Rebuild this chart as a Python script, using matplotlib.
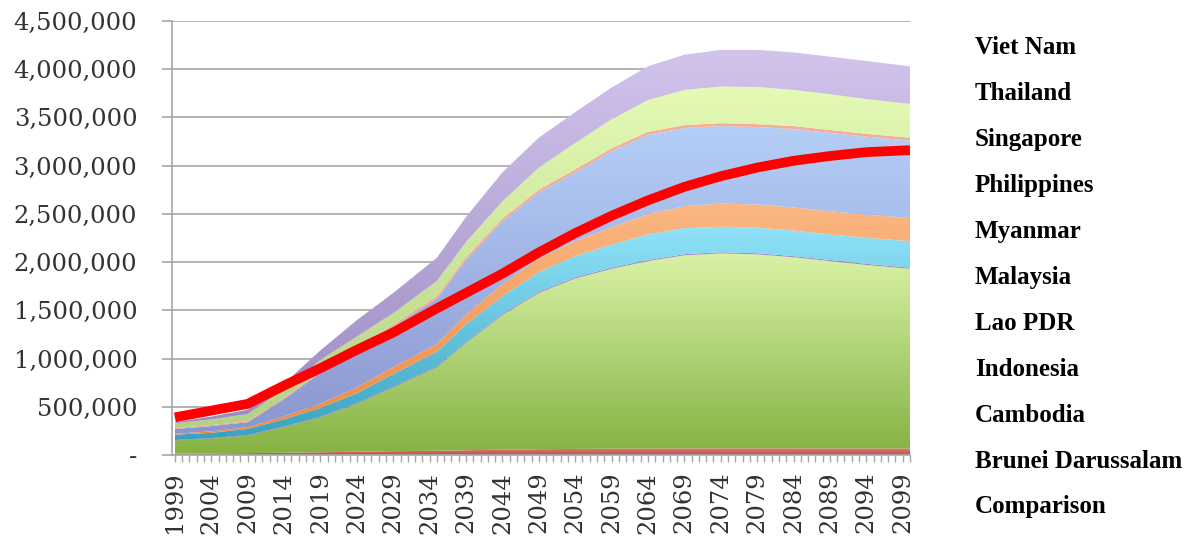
import numpy as np
import matplotlib
matplotlib.use("Agg")
import matplotlib.pyplot as plt
from matplotlib.colors import LinearSegmentedColormap
from matplotlib.ticker import FuncFormatter, MultipleLocator

# values, thousands of persons
years = [1999, 2004, 2009, 2014, 2019, 2024, 2029, 2035, 2039, 2044, 2049,
         2054, 2059, 2064, 2069, 2074, 2079, 2084, 2089, 2094, 2100]

brunei = [2, 2, 3, 3, 3, 4, 4, 4, 5, 5, 5, 5, 5, 5, 5, 5, 5, 5, 5, 5, 5]
cambodia = [12, 14, 16, 20, 25, 30, 35, 40, 44, 50, 55, 58, 60, 62, 63, 64, 64, 64, 63, 63, 62]
indonesia = [136, 154, 181, 267, 362, 496, 661, 866, 1111, 1395, 1620, 1767, 1865,
             1943, 2002, 2021, 2011, 1981, 1942, 1902, 1863]
lao = [5, 5, 6, 6, 7, 8, 9, 10, 10, 11, 12, 12, 12, 12, 12, 12, 12, 12, 12, 12, 12]
malaysia = [55, 55, 64, 74, 93, 102, 130, 150, 185, 185, 205, 220, 240, 265, 270,
            265, 265, 265, 265, 270, 275]
myanmar = [10, 15, 18, 30, 42, 60, 72, 82, 100, 125, 140, 155, 180, 210, 228,
           240, 240, 240, 240, 240, 240]
philippines = [50, 55, 52, 180, 318, 380, 419, 468, 565, 649, 683, 713, 788, 823,
               810, 803, 803, 813, 813, 808, 803]
singapore = [8, 9, 10, 10, 15, 18, 20, 25, 28, 30, 30, 30, 30, 30, 30, 30, 30, 30, 30, 30, 30]
thailand = [50, 60, 75, 90, 120, 130, 120, 160, 160, 180, 230, 275, 300, 330, 365,
            380, 385, 375, 370, 360, 350]
vietnam = [10, 30, 45, 60, 100, 170, 210, 240, 260, 300, 310, 320, 330, 350, 365,
           380, 385, 390, 390, 395, 390]
comparison = [390, 460, 530, 720, 900, 1090, 1270, 1520, 1680, 1880, 2100, 2300,
              2480, 2640, 2780, 2890, 2980, 3050, 3100, 3140, 3160]

names = ["Brunei Darussalam", "Cambodia", "Indonesia", "Lao PDR", "Malaysia",
         "Myanmar", "Philippines", "Singapore", "Thailand", "Viet Nam"]
series = [brunei, cambodia, indonesia, lao, malaysia, myanmar, philippines,
          singapore, thailand, vietnam]
# (bottom colour, top colour) for the vertical gradient of each band
colors = [("#4f81bd", "#7fa3d3"),
          ("#c0504d", "#e07a70"),
          ("#86b243", "#d8f2a6"),
          ("#8064a2", "#a58cc4"),
          ("#3aa2bf", "#90e2f8"),
          ("#ee8a40", "#fbb783"),
          ("#8c95cf", "#b4cff7"),
          ("#f0a08c", "#f6ae98"),
          ("#b6d184", "#e4fab5"),
          ("#9c8bc2", "#d2c4ec")]

x = np.array(years, dtype=float)

fig = plt.figure(figsize=(12.01, 5.46), dpi=100)
ax = fig.add_axes([0.1432, 0.1667, 0.6145, 0.7949])

ax.yaxis.grid(True, color="#a6a6a6", lw=1.2, zorder=0)
ax.set_axisbelow(True)

base = np.zeros(len(x))
for vals, (c0, c1) in zip(series, colors):
    top = base + np.array(vals) * 1000
    poly = ax.fill_between(x, base, top, facecolor="none", lw=0, zorder=2)
    lo, hi = base.min(), top.max()
    cmap = LinearSegmentedColormap.from_list("g", [c0, c1])
    grad = np.linspace(0, 1, 256).reshape(-1, 1)
    im = ax.imshow(grad, cmap=cmap, aspect="auto", origin="lower",
                   extent=[x[0], x[-1], lo, hi], zorder=2, interpolation="bilinear")
    im.set_clip_path(poly.get_paths()[0], ax.transData)
    base = top

ax.plot(x, np.array(comparison) * 1000, color="#ff0000", lw=7,
        solid_capstyle="butt", solid_joinstyle="round", zorder=5)

ax.set_xlim(1998.6, 2100.0)
ax.set_ylim(0, 4500000)
ax.set_aspect("auto")

ax.yaxis.set_major_locator(MultipleLocator(500000))
ax.yaxis.set_major_formatter(FuncFormatter(lambda v, p: "-" if v == 0 else "{:,.0f}".format(v)))
ax.set_xticks(range(1999, 2100, 5))
ax.xaxis.set_minor_locator(MultipleLocator(1))
ax.tick_params(axis="x", which="both", length=5, color="#a6a6a6", width=1)
ax.tick_params(axis="x", which="major", labelrotation=90, pad=7)
ax.tick_params(axis="y", length=7, color="#a6a6a6", width=1.2, pad=18)

for lab in ax.get_xticklabels() + ax.get_yticklabels():
    lab.set_fontfamily("DejaVu Serif")
    lab.set_fontsize(17.5)
    lab.set_color("#333333")

for s in ["top", "right"]:
    ax.spines[s].set_visible(False)
ax.spines["left"].set_color("#a6a6a6")
ax.spines["bottom"].set_color("#a6a6a6")
ax.spines["left"].set_linewidth(1.2)
ax.spines["bottom"].set_linewidth(1.2)

legend_labels = names[::-1] + ["Comparison"]
for i, lab in enumerate(legend_labels):
    y = 48 + i * 45.9
    fig.text(975 / 1201, 1 - y / 546, lab, fontfamily="Liberation Serif",
             fontweight="bold", fontsize=18, va="center", ha="left", color="black")

fig.savefig("out.png", dpi=100)
